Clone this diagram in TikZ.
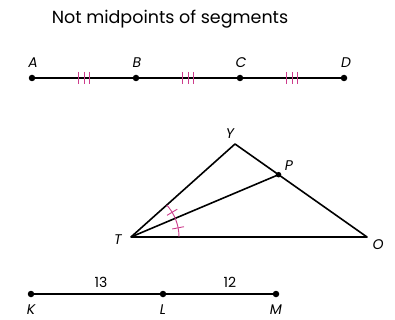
\documentclass[tikz,border=0pt]{standalone}
\usepackage{fontspec}
\setmainfont{Poppins}
\usetikzlibrary{calc}
\definecolor{tickpink}{RGB}{205,60,140}
\tikzset{
  dot/.style={circle, fill=black, inner sep=0pt, minimum size=6.5pt},
  seg/.style={line width=1.6pt},
  tickmark/.style={tickpink, line width=0.9pt},
  ptlabel/.style={font=\itshape\fontsize{14}{14}\selectfont, inner sep=1pt},
  numlabel/.style={font=\fontsize{14}{14}\selectfont, inner sep=1pt}
}
\begin{document}
\begin{tikzpicture}[x=1pt, y=-1pt]
  \useasboundingbox (0,0) rectangle (395,320);

  \node[font=\fontsize{17.5}{18}\selectfont] (title) at (170,19) {Not midpoints of segments};

  % segment ABCD
  \path (32,78) node[dot] (A) {}
        (136,78) node[dot] (B) {}
        (240,78) node[dot] (C) {}
        (344,78) node[dot] (D) {};
  \draw[seg] (A) -- (D);
  \foreach \p/\q in {A/B, B/C, C/D}{
    \foreach \dx in {-5.5,0,5.5}
      \draw[tickmark] ($(\p)!0.5!(\q)+(\dx,-6)$) -- ++(0,12);
  }
  \node[ptlabel] (lA) at (33,63) {A};
  \node[ptlabel] (lB) at (137,63) {B};
  \node[ptlabel] (lC) at (241,63) {C};
  \node[ptlabel] (lD) at (346,63) {D};

  % triangle TYO with segment TP
  \coordinate (T) at (131,237);
  \coordinate (Y) at (235,144);
  \coordinate (O) at (367,237);
  \coordinate (P) at ($(Y)!0.33!(O)$);
  \draw[seg, line join=round] (T) -- (Y) -- (O) -- cycle;
  \draw[seg] (T) -- (P);
  \node[dot, minimum size=5.5pt] (Pd) at (P) {};
  \node[ptlabel] (lY) at (230,134) {Y};
  \node[ptlabel] (lP) at (289,166) {P};
  \node[ptlabel] (lT) at (118,240) {T};
  \node[ptlabel] (lO) at (378,245) {O};

  % angle marks
  \draw[tickmark] ($(T)+(48,0)$) arc[start angle=0, end angle=-41.8, radius=48];
  \foreach \a in {-11,-31}
    \draw[tickmark] ($(T)+(\a:42)$) -- ($(T)+(\a:54)$);

  % segment KLM
  \path (31,294) node[dot] (K) {}
        (163,294) node[dot] (L) {}
        (276,294) node[dot] (M) {};
  \draw[seg] (K) -- (M);
  \node[numlabel] (n13) at (101,282) {13};
  \node[numlabel] (n12) at (230,282) {12};
  \node[ptlabel] (lK) at (31,310) {K};
  \node[ptlabel] (lL) at (163,310) {L};
  \node[ptlabel] (lM) at (276,310) {M};
\end{tikzpicture}
\end{document}
